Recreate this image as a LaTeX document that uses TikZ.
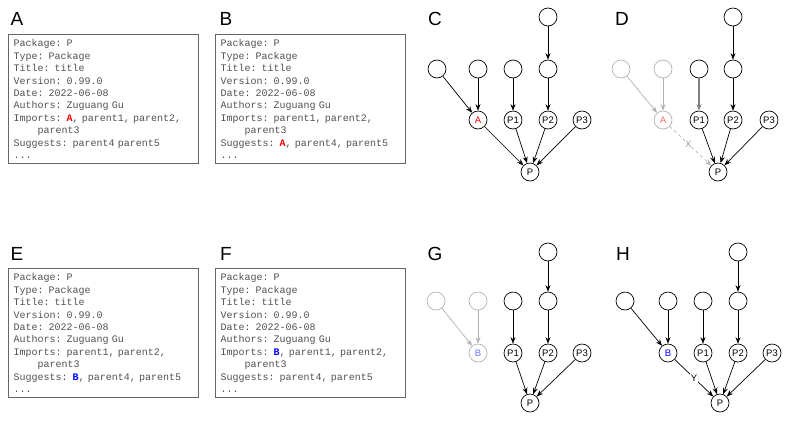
\documentclass[tikz,border=0pt]{standalone}
\usepackage{fontspec}
\setsansfont{Liberation Sans}
\setmonofont{Liberation Mono}
\usetikzlibrary{arrows.meta}
\definecolor{descgray}{RGB}{80,80,80}
\definecolor{fadered}{RGB}{255,110,110}
\definecolor{fadeblue}{RGB}{110,110,255}
\newcommand{\newA}{\textbf{\color{red}A}}
\newcommand{\newB}{\textbf{\color{blue}B}}
\newcommand{\wrapind}{\hspace*{2.4em}}

\begin{document}
\begin{tikzpicture}[x=1pt, y=-1pt,
  panel/.style={font=\sffamily\fontsize{19}{19}\selectfont},
  desc/.style={draw=black!60, line width=1pt, anchor=north west,
               font=\ttfamily\fontsize{10}{12.4}\selectfont, text=descgray,
               align=left, text width=180pt, inner xsep=5pt, inner ysep=2pt,
               minimum width=190pt, minimum height=129pt},
  pkg/.style={circle, draw, line width=0.7pt, minimum size=18pt, inner sep=0pt,
              font=\sffamily\fontsize{9.5}{10}\selectfont},
  gone/.style={pkg, draw=black!30},
  dep/.style={-{Stealth[length=6.5pt, width=5pt]}, line width=0.7pt},
  gonedep/.style={dep, black!30},
  edgelab/.style={font=\sffamily\fontsize{9.5}{9.5}\selectfont, inner sep=1pt}]
\useasboundingbox (0,0) rectangle (789,424);

% panel letters
\node[panel] (labA) at (17,19) {A};
\node[panel] (labB) at (226,19) {B};
\node[panel] (labC) at (435,19) {C};
\node[panel] (labD) at (622,19) {D};
\node[panel] (labE) at (17,254) {E};
\node[panel] (labF) at (226,254) {F};
\node[panel] (labG) at (435,254) {G};
\node[panel] (labH) at (623,254) {H};

% DESCRIPTION files
\node[desc] (boxA) at (8,34) {Package: P\\ Type: Package\\ Title: title\\
  Version: 0.99.0\\ Date: 2022-06-08\\ Authors: Zuguang Gu\\
  Imports: \newA, parent1, parent2,\\ \wrapind parent3\\
  Suggests: parent4 parent5\\ ...};
\node[desc] (boxB) at (215,34) {Package: P\\ Type: Package\\ Title: title\\
  Version: 0.99.0\\ Date: 2022-06-08\\ Authors: Zuguang Gu\\
  Imports: parent1, parent2,\\ \wrapind parent3\\
  Suggests: \newA, parent4, parent5\\ ...};
\node[desc] (boxE) at (8,268) {Package: P\\ Type: Package\\ Title: title\\
  Version: 0.99.0\\ Date: 2022-06-08\\ Authors: Zuguang Gu\\
  Imports: parent1, parent2,\\ \wrapind parent3\\
  Suggests: \newB, parent4, parent5\\ ...};
\node[desc] (boxF) at (215,268) {Package: P\\ Type: Package\\ Title: title\\
  Version: 0.99.0\\ Date: 2022-06-08\\ Authors: Zuguang Gu\\
  Imports: \newB, parent1, parent2,\\ \wrapind parent3\\
  Suggests: parent4, parent5\\ ...};

% C: A imported
\begin{scope}[shift={(530,172)}]
\node[pkg] (cP) at (0,0) {P};
\node[pkg, text=red] (cA) at (-52,-52) {A};
\node[pkg] (cP1) at (-17,-52) {P1};
\node[pkg] (cP2) at (18,-52) {P2};
\node[pkg] (cP3) at (52,-52) {P3};
\node[pkg] (cu1) at (-93,-103) {};
\node[pkg] (cu2) at (-52,-103) {};
\node[pkg] (cu3) at (-17,-103) {};
\node[pkg] (cu4) at (18,-103) {};
\node[pkg] (cu5) at (18,-155) {};
\end{scope}
\draw[dep] (cu1) -- (cA);
\draw[dep] (cu2) -- (cA);
\draw[dep] (cu3) -- (cP1);
\draw[dep] (cu5) -- (cu4);
\draw[dep] (cu4) -- (cP2);
\draw[dep] (cA) -- (cP);
\draw[dep] (cP1) -- (cP);
\draw[dep] (cP2) -- (cP);
\draw[dep] (cP3) -- (cP);

% D: A moved to Suggests
\begin{scope}[shift={(718,172)}]
\node[pkg] (dP) at (0,0) {P};
\node[gone, text=fadered] (dA) at (-55,-52) {A};
\node[pkg] (dP1) at (-19,-52) {P1};
\node[pkg] (dP2) at (15,-52) {P2};
\node[pkg] (dP3) at (51,-52) {P3};
\node[gone] (du1) at (-97,-103) {};
\node[gone] (du2) at (-55,-103) {};
\node[pkg] (du3) at (-19,-103) {};
\node[pkg] (du4) at (15,-103) {};
\node[pkg] (du5) at (15,-155) {};
\end{scope}
\draw[gonedep] (du1) -- (dA);
\draw[gonedep] (du2) -- (dA);
\draw[dep, line width=1.8pt, black!50] (du3) -- (dP1);
\draw[dep] (du5) -- (du4);
\draw[dep] (du4) -- (dP2);
\draw[gonedep, dashed] (dA) -- node[edgelab, text=black!35, pos=0.45] {X} (dP);
\draw[dep] (dP1) -- (dP);
\draw[dep] (dP2) -- (dP);
\draw[dep] (dP3) -- (dP);

% G: B only suggested
\begin{scope}[shift={(530,403)}]
\node[pkg] (gP) at (0,0) {P};
\node[gone, text=fadeblue] (gB) at (-52,-50) {B};
\node[pkg] (gP1) at (-17,-50) {P1};
\node[pkg] (gP2) at (18,-50) {P2};
\node[pkg] (gP3) at (52,-50) {P3};
\node[gone] (gu1) at (-94,-102) {};
\node[gone] (gu2) at (-52,-102) {};
\node[pkg] (gu3) at (-17,-102) {};
\node[pkg] (gu4) at (18,-102) {};
\node[pkg] (gu5) at (18,-151) {};
\end{scope}
\draw[gonedep] (gu1) -- (gB);
\draw[gonedep] (gu2) -- (gB);
\draw[dep] (gu3) -- (gP1);
\draw[dep] (gu5) -- (gu4);
\draw[dep] (gu4) -- (gP2);
\draw[dep] (gP1) -- (gP);
\draw[dep] (gP2) -- (gP);
\draw[dep] (gP3) -- (gP);

% H: B moved to Imports
\begin{scope}[shift={(720,403)}]
\node[pkg] (hP) at (0,0) {P};
\node[pkg, text=blue] (hB) at (-52,-50) {B};
\node[pkg] (hP1) at (-17,-50) {P1};
\node[pkg] (hP2) at (18,-50) {P2};
\node[pkg] (hP3) at (52,-50) {P3};
\node[pkg] (hu1) at (-95,-102) {};
\node[pkg] (hu2) at (-52,-102) {};
\node[pkg] (hu3) at (-17,-102) {};
\node[pkg] (hu4) at (18,-102) {};
\node[pkg] (hu5) at (18,-151) {};
\end{scope}
\draw[dep] (hu1) -- (hB);
\draw[dep] (hu2) -- (hB);
\draw[dep] (hu3) -- (hP1);
\draw[dep] (hu5) -- (hu4);
\draw[dep] (hu4) -- (hP2);
\draw[dep] (hB) -- node[edgelab, fill=white] {Y} (hP);
\draw[dep] (hP1) -- (hP);
\draw[dep] (hP2) -- (hP);
\draw[dep] (hP3) -- (hP);
\end{tikzpicture}
\end{document}
